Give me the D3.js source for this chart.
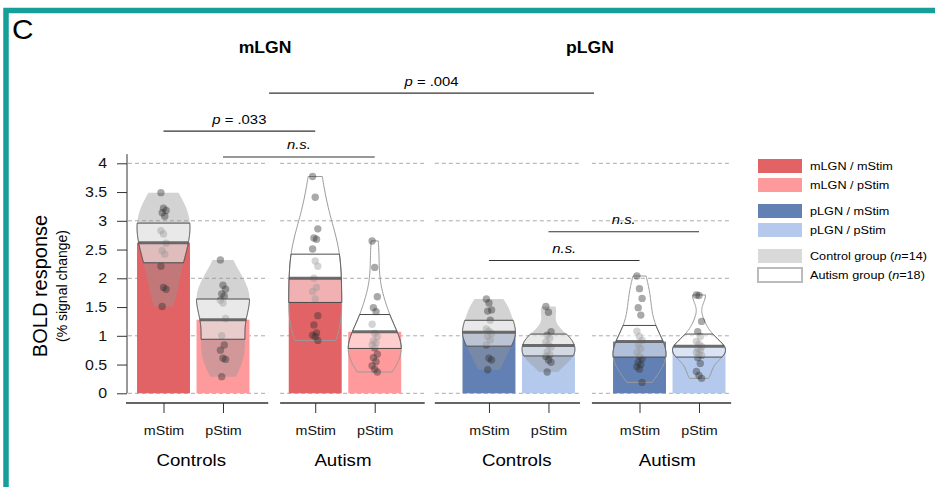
<!DOCTYPE html>
<meta charset="utf-8">
<title>BOLD response mLGN / pLGN</title>
<style>
body { margin: 0; background: #fff; }
svg { font-family: "Liberation Sans", Arial, sans-serif; display: block; }
</style>
<svg></svg>
<script src="https://cdn.jsdelivr.net/npm/d3@7"></script>
<script>
// ---- data ----
var regions = ["mLGN", "pLGN"];
var groups = ["Controls", "Autism"];
var stims = ["mStim", "pStim"];

var mLGN_ctrl_mStim = [3.49, 3.22, 3.18, 3.14, 3.08, 2.83, 2.77, 2.61, 2.48, 2.42, 2.21, 1.84, 1.81, 1.51];
var mLGN_ctrl_pStim = [2.32, 1.88, 1.81, 1.73, 1.69, 1.62, 1.57, 1.30, 1.00, 0.84, 0.75, 0.61, 0.59, 0.29];
var mLGN_aut_mStim = [3.77, 3.41, 2.86, 2.70, 2.68, 2.51, 2.30, 2.21, 2.00, 1.84, 1.77, 1.64, 1.35, 1.19, 1.05, 1.01, 0.99, 0.92];
var mLGN_aut_pStim = [2.65, 2.19, 1.68, 1.49, 1.42, 1.20, 1.04, 0.99, 0.91, 0.88, 0.84, 0.79, 0.68, 0.62, 0.55, 0.48, 0.42, 0.37];
var pLGN_ctrl_mStim = [1.64, 1.57, 1.45, 1.43, 1.27, 1.12, 1.08, 1.04, 0.99, 0.93, 0.84, 0.61, 0.58, 0.41];
var pLGN_ctrl_pStim = [1.51, 1.41, 1.07, 1.01, 0.96, 0.89, 0.84, 0.80, 0.72, 0.67, 0.64, 0.58, 0.54, 0.37];
var pLGN_aut_mStim = [2.04, 1.82, 1.65, 1.49, 1.36, 1.08, 0.99, 0.92, 0.84, 0.78, 0.71, 0.65, 0.60, 0.54, 0.50, 0.46, 0.42, 0.19];
var pLGN_aut_pStim = [1.71, 1.70, 1.25, 1.07, 0.99, 0.90, 0.86, 0.81, 0.78, 0.75, 0.71, 0.68, 0.66, 0.62, 0.52, 0.38, 0.31, 0.26];

var means = [2.62, 1.28, 2.00, 1.07, 1.06, 0.83, 0.90, 0.82];
var bandLo = [2.27, 0.94, 1.58, 0.78, 0.82, 0.65, 0.63, 0.63];
var bandHi = [2.96, 1.64, 2.42, 1.37, 1.27, 1.03, 1.18, 1.03];

var yTicks = [0, 0.5, 1, 1.5, 2, 2.5, 3, 3.5, 4];

var sigLabels = ["p = .004", "p = .033", "n.s.", "n.s.", "n.s."];
var sigLevels = [5.22, 4.56, 4.11, 2.81, 2.31];
var sigPairs = [[[0, 1, 2, 3], [4, 5, 6, 7]], [[0], [2]], [[1], [3]], [[5], [7]], [[4], [6]]];

var legendLabels = ["mLGN / mStim", "mLGN / pStim", "pLGN / mStim", "pLGN / pStim", "Control group (n=14)", "Autism group (n=18)"];

// ---- layout ----
var width = 935, height = 487;
var sx = 1.1; // the figure's lettering is drawn a little wide
var barColors = { mLGN: ["#e26365", "#fe9a9b"], pLGN: ["#6380b4", "#b4c9eb"] };
var beanPos = [0, 1, 2.55, 3.55, 5.47, 6.47, 8, 9];
var segments = [[-0.63, 1.76], [1.96, 4.39], [4.56, 7.0], [7.2, 9.54]];

var svg = d3.select("svg").attr("width", width).attr("height", height);
svg.append("rect").attr("width", width).attr("height", height).attr("fill", "#fff");

var x = d3.scaleLinear().domain([0, 9]).range([163.5, 699]);
var y = d3.scaleLinear().domain([0, 4]).range([393.3, 163.3]);
var halfW = (x(1) - x(0)) * 0.445;
var axisY = 403;

function wideText(g, px, py) {
  return g.append("text").attr("x", px / sx).attr("y", py).attr("transform", "scale(" + sx + ",1)");
}

// teal frame
svg.append("rect")
  .attr("x", 6).attr("y", 10.5).attr("width", 1000).attr("height", 1000)
  .attr("fill", "none").attr("stroke", "#169f98").attr("stroke-width", 5.5);

wideText(svg, 12, 39).attr("font-size", 27).text("C");

// beans
var beanVals = [mLGN_ctrl_mStim, mLGN_ctrl_pStim, mLGN_aut_mStim, mLGN_aut_pStim,
  pLGN_ctrl_mStim, pLGN_ctrl_pStim, pLGN_aut_mStim, pLGN_aut_pStim];

var beans = beanVals.map(function(v, i) {
  return {
    values: v, region: regions[i >> 2], group: groups[(i >> 1) & 1], stim: stims[i & 1],
    mean: means[i], lo: bandLo[i], hi: bandHi[i], pos: beanPos[i]
  };
});

function bwNrd0(v) {
  var s = d3.deviation(v), sorted = v.slice().sort(d3.ascending);
  var iqr = d3.quantileSorted(sorted, 0.75) - d3.quantileSorted(sorted, 0.25);
  return 0.9 * Math.min(s, iqr / 1.34) * Math.pow(v.length, -0.2);
}
function density(v, bw) {
  return function(t) {
    return d3.sum(v, function(d) { var u = (t - d) / bw; return Math.exp(-0.5 * u * u); }) / (v.length * bw);
  };
}
function samples(a, z) {
  return d3.range(0, 81).map(function(k) { return a + (z - a) * k / 80; });
}

beans.forEach(function(b) {
  b.min = d3.min(b.values);
  b.max = d3.max(b.values);
  b.dens = density(b.values, bwNrd0(b.values) * 1.15);
  b.peak = d3.max(samples(b.min, b.max), b.dens);
});
function hw(b, t) { return b.dens(t) / b.peak * halfW; }

function beanArea(b) {
  return d3.area()
    .y(function(t) { return y(t); })
    .x0(function(t) { return x(b.pos) - hw(b, t); })
    .x1(function(t) { return x(b.pos) + hw(b, t); });
}

// gridlines
var grid = svg.append("g");
[0, 1, 2, 3, 4].forEach(function(v) {
  segments.forEach(function(s, i) {
    grid.append("line")
      .attr("x1", i === 0 ? x(s[0]) + 2 : x(s[0])).attr("x2", x(s[1]))
      .attr("y1", y(v)).attr("y2", y(v))
      .attr("stroke", "#aaa").attr("stroke-dasharray", "4,3");
  });
});

// bars
svg.append("g").selectAll("rect").data(beans).enter().append("rect")
  .attr("x", function(d) { return x(d.pos) - halfW; })
  .attr("width", 2 * halfW)
  .attr("y", function(d) { return y(d.mean); })
  .attr("height", function(d) { return y(0) - y(d.mean); })
  .attr("fill", function(d) { return barColors[d.region][stims.indexOf(d.stim)]; });

// bean shapes
svg.append("g").selectAll("path").data(beans).enter().append("path")
  .attr("d", function(d) { return beanArea(d)(samples(d.min, d.max)); })
  .attr("fill", function(d) { return d.group === "Controls" ? "rgba(150,150,150,0.42)" : "none"; })
  .attr("stroke", function(d) { return d.group === "Controls" ? "none" : "#9a9a9a"; })
  .attr("stroke-width", 1);

// points
var pts = svg.append("g");
beans.forEach(function(b) {
  pts.selectAll(null).data(b.values).enter().append("circle")
    .attr("cx", function(d, i) { return x(b.pos) + ((i * 7) % 5 - 2) * 1.3; })
    .attr("cy", function(d) { return y(d); })
    .attr("r", 3.7)
    .attr("fill", "#333")
    .attr("fill-opacity", 0.42);
});

// inference bands
svg.append("g").selectAll("path").data(beans).enter().append("path")
  .attr("d", function(d) { return beanArea(d)(samples(Math.max(d.lo, d.min), Math.min(d.hi, d.max))); })
  .attr("fill", "rgba(255,255,255,0.5)")
  .attr("stroke", "#4a4a4a").attr("stroke-width", 1);

// mean lines
svg.append("g").selectAll("line").data(beans).enter().append("line")
  .attr("x1", function(d) { return x(d.pos) - hw(d, d.mean); })
  .attr("x2", function(d) { return x(d.pos) + hw(d, d.mean); })
  .attr("y1", function(d) { return y(d.mean); })
  .attr("y2", function(d) { return y(d.mean); })
  .attr("stroke", "#555").attr("stroke-opacity", 0.85).attr("stroke-width", 3);

// y axis
var yAxis = d3.axisLeft(y).tickValues(yTicks).tickSize(10).tickPadding(8).tickFormat(d3.format("~g"));
var gy = svg.append("g").attr("transform", "translate(127,0)").call(yAxis);
gy.select(".domain").remove();
gy.selectAll(".tick line").attr("stroke", "#333");
gy.selectAll(".tick text").attr("font-size", 14.5).attr("font-family", null).attr("fill", "#111")
  .attr("transform", "scale(" + sx + ",1)");
gy.append("line").attr("x1", 0).attr("x2", 0).attr("y1", y(4.16)).attr("y2", y(0)).attr("stroke", "#333");

svg.append("text")
  .attr("transform", "translate(47,286) rotate(-90)")
  .attr("text-anchor", "middle").attr("font-size", 20).text("BOLD response");
svg.append("text")
  .attr("transform", "translate(67,286) rotate(-90)")
  .attr("text-anchor", "middle").attr("font-size", 14).text("(% signal change)");

// x axis segments
var xAxis = d3.axisBottom(x).tickValues(beanPos).tickSize(10).tickPadding(13)
  .tickFormat(function(d, i) { return stims[i % 2]; });
var gx = svg.append("g").attr("transform", "translate(0," + axisY + ")").call(xAxis);
gx.select(".domain").remove();
gx.selectAll(".tick line").attr("stroke", "#333");
gx.selectAll(".tick text").attr("font-size", 13).attr("font-family", null).attr("fill", "#111")
  .attr("transform", "scale(" + sx + ",1)");
gx.selectAll(".seg").data(segments).enter().append("line")
  .attr("x1", function(d) { return x(d[0]); })
  .attr("x2", function(d) { return x(d[1]); })
  .attr("stroke", "#333").attr("stroke-width", 1.6);

// group labels
var gl = svg.append("g").attr("text-anchor", "middle").attr("font-size", 17);
d3.range(4).forEach(function(g) {
  wideText(gl, (x(beanPos[2 * g]) + x(beanPos[2 * g + 1])) / 2 - 2, 466).text(groups[g % 2]);
});

// region titles
var rt = svg.append("g").attr("text-anchor", "middle").attr("font-size", 16).attr("font-weight", "bold");
regions.forEach(function(r, i) {
  wideText(rt, (x(beanPos[4 * i]) + x(beanPos[4 * i + 3])) / 2 - 4, 53).text(r);
});

// significance brackets
var sig = svg.append("g");
sigPairs.forEach(function(p, i) {
  var a = x(d3.mean(p[0], function(k) { return beanPos[k]; }));
  var b = x(d3.mean(p[1], function(k) { return beanPos[k]; }));
  var ly = y(sigLevels[i]);
  sig.append("line").attr("x1", a).attr("x2", b).attr("y1", ly).attr("y2", ly)
    .attr("stroke", "#333").attr("stroke-width", 1.2);
  var t = wideText(sig, (a + b) / 2, ly - 7.5)
    .attr("text-anchor", "middle").attr("font-size", 13.5);
  var lab = sigLabels[i];
  if (lab.charAt(0) === "p") {
    t.append("tspan").attr("font-style", "italic").text("p");
    t.append("tspan").text(lab.slice(1));
  } else {
    t.attr("font-style", "italic").text(lab);
  }
});

// legend
var legY = [159, 178, 204, 223, 249, 268];
var legFill = [barColors.mLGN[0], barColors.mLGN[1], barColors.pLGN[0], barColors.pLGN[1], "#d9d9d9", "#fff"];
var leg = svg.append("g");
legendLabels.forEach(function(l, i) {
  leg.append("rect").attr("x", 758).attr("y", legY[i]).attr("width", 44).attr("height", 14)
    .attr("fill", legFill[i])
    .attr("stroke", i === 5 ? "#bbb" : "none").attr("stroke-width", 2);
  var t = wideText(leg, 810, legY[i] + 11).attr("font-size", 11.5);
  var m = l.match(/^(.*\()n(=\d+\))$/);
  if (m) {
    t.append("tspan").text(m[1]);
    t.append("tspan").attr("font-style", "italic").text("n");
    t.append("tspan").text(m[2]);
  } else {
    t.text(l);
  }
});
</script>
